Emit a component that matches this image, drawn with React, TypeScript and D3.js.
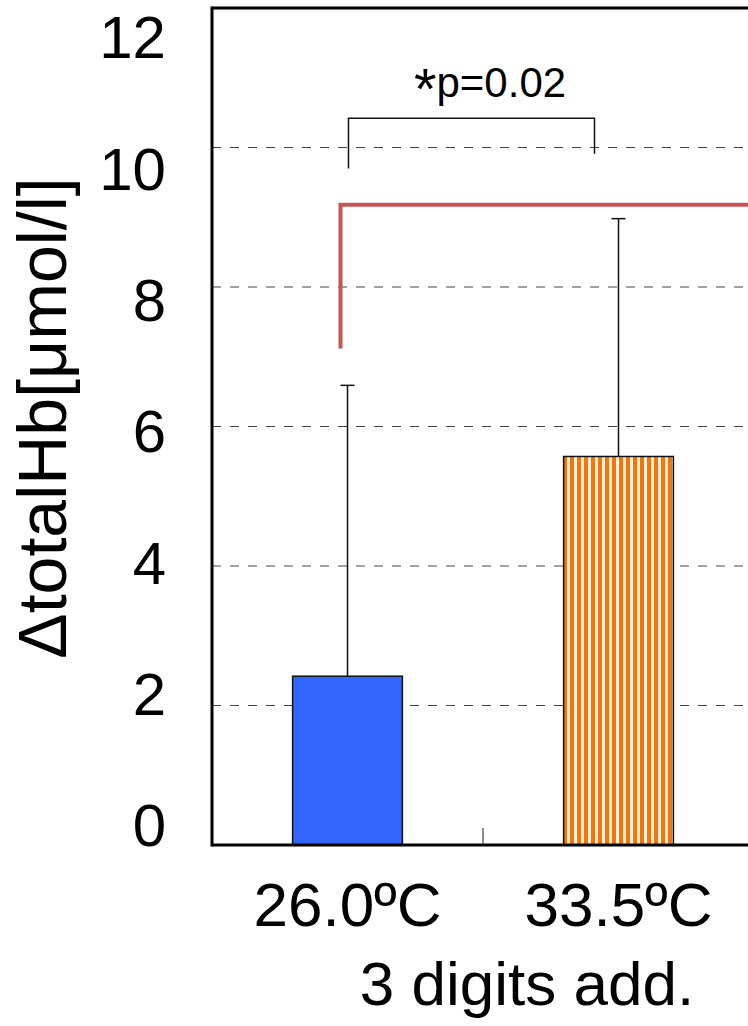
import React from "react";
import * as d3 from "d3";

const categories = ["26.0ºC", "33.5ºC"];
const means = [2.42, 5.57];
const upperErrors = [6.59, 8.98];
const yTicks = [0, 2, 4, 6, 8, 10, 12];
const gridValues = [2, 4, 6, 8, 10];
const groupLabel = "3 digits add.";
const yLabel = "ΔtotalHb[μmol/l]";
const sigStar = "*";
const sigText = "p=0.02";
// bracket: [leftBottom, top, rightBottom] in data units
const blackBracket = [9.7, 10.42, 9.91];
const redBracket = [7.12, 9.18];

const W = 748;
const H = 1026;
const FONT = "'Liberation Sans', Arial, Helvetica, sans-serif";

export default function App() {
  const x0 = 212;
  const y = d3.scaleLinear().domain([0, 12]).range([845, 8]);
  const yLab = d3.scaleLinear().domain([0, 12]).range([825, 37]);
  const x = d3.scaleBand<string>().domain(categories).range([x0, 754]);
  const bw = x.bandwidth() * 0.405;
  const cx = (c: string) => (x(c) as number) + x.bandwidth() / 2;
  const tickFs = 60;

  const c0 = cx(categories[0]);
  const c1 = cx(categories[1]);

  return (
    <svg
      width={W}
      height={H}
      style={{ position: "absolute", left: 0, top: 0, background: "#fff" }}
      fontFamily={FONT}
    >
      <defs>
        <pattern id="stripes" width={7} height={10} patternUnits="userSpaceOnUse" x={563}>
          <rect x={0} y={0} width={7} height={10} fill="#fff2d2" />
          <rect x={0} y={0} width={4} height={10} fill="#f27512" />
        </pattern>
      </defs>
      <rect x={0} y={0} width={W} height={H} fill="#fff" />

      {/* gridlines */}
      {gridValues.map((v) => (
        <line
          key={v}
          x1={x0}
          x2={W}
          y1={y(v)}
          y2={y(v)}
          stroke="#444"
          strokeWidth={1}
          strokeDasharray="9,9"
        />
      ))}

      {/* separator tick */}
      <line
        x1={x(categories[1])}
        x2={x(categories[1])}
        y1={y(0)}
        y2={y(0) - 17}
        stroke="#666"
        strokeWidth={1.5}
      />

      {/* bars */}
      {categories.map((c, i) => (
        <g key={c}>
          <line
            x1={cx(c)}
            x2={cx(c)}
            y1={y(means[i])}
            y2={y(upperErrors[i])}
            stroke="#111"
            strokeWidth={1.5}
          />
          <line
            x1={cx(c) - 7}
            x2={cx(c) + 7}
            y1={y(upperErrors[i])}
            y2={y(upperErrors[i])}
            stroke="#111"
            strokeWidth={1.5}
          />
          <rect
            x={cx(c) - bw / 2}
            y={y(means[i])}
            width={bw}
            height={y(0) - y(means[i])}
            fill={i === 0 ? "#3366ff" : "url(#stripes)"}
            stroke="#111"
            strokeWidth={1.5}
          />
        </g>
      ))}

      {/* frame */}
      <line x1={x0} x2={W} y1={y(12)} y2={y(12)} stroke="#000" strokeWidth={3} />
      <line x1={x0} x2={x0} y1={y(12) - 1.5} y2={y(0) + 1.5} stroke="#000" strokeWidth={3} />
      <line x1={x0} x2={W} y1={y(0)} y2={y(0)} stroke="#000" strokeWidth={3} />

      {/* y tick labels */}
      {yTicks.map((t) => (
        <text
          key={t}
          x={166}
          y={yLab(t) + tickFs * 0.358}
          textAnchor="end"
          fontSize={tickFs}
          fill="#000"
        >
          {t}
        </text>
      ))}

      {/* y label */}
      <text
        transform={`translate(66,418) rotate(-90)`}
        textAnchor="middle"
        fontSize={68}
        fill="#000"
      >
        {yLabel}
      </text>

      {/* x labels */}
      {categories.map((c) => (
        <text key={c} x={cx(c)} y={926} textAnchor="middle" fontSize={62} fill="#000">
          {c}
        </text>
      ))}
      <text x={527} y={1005} textAnchor="middle" fontSize={62} fill="#000">
        {groupLabel}
      </text>

      {/* red bracket */}
      <path
        d={`M${c0 - 7},${y(redBracket[0])} V${y(redBracket[1])} H${W + 5}`}
        fill="none"
        stroke="#c85555"
        strokeWidth={4}
      />

      {/* black significance bracket */}
      <path
        d={`M${c0 + 1},${y(blackBracket[0])} V${y(blackBracket[1])} H${c1 - 24} V${y(blackBracket[2])}`}
        fill="none"
        stroke="#111"
        strokeWidth={1.5}
      />
      <text x={490} y={97} textAnchor="middle" fontSize={42} fill="#000">
        <tspan fontSize={58} dy={12}>{sigStar}</tspan>
        <tspan dy={-12}>{sigText}</tspan>
      </text>
    </svg>
  );
}
